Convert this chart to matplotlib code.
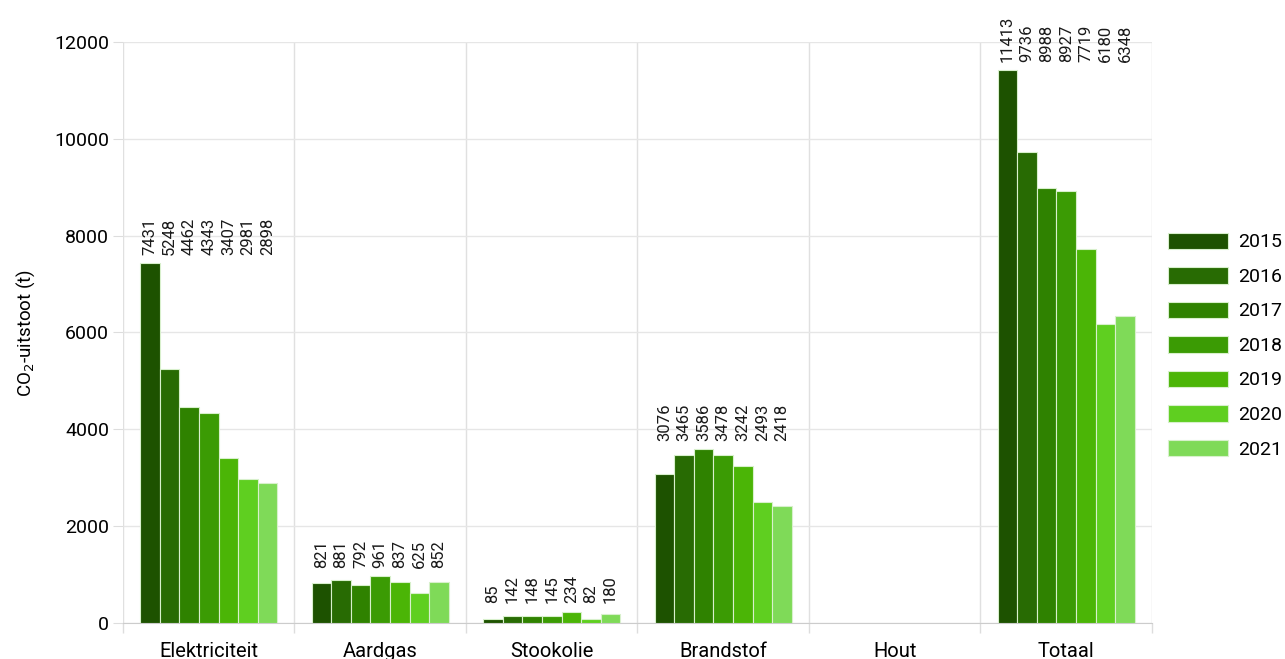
import numpy as np
import matplotlib
matplotlib.use("Agg")
import matplotlib.pyplot as plt

plt.rcParams['font.family'] = ['Roboto', 'DejaVu Sans']

# data
categories = ["Elektriciteit", "Aardgas", "Stookolie", "Brandstof", "Hout", "Totaal"]
years = ["2015", "2016", "2017", "2018", "2019", "2020", "2021"]
elektriciteit = [7431, 5248, 4462, 4343, 3407, 2981, 2898]
aardgas = [821, 881, 792, 961, 837, 625, 852]
stookolie = [85, 142, 148, 145, 234, 82, 180]
brandstof = [3076, 3465, 3586, 3478, 3242, 2493, 2418]
hout = [None] * 7
totaal = [11413, 9736, 8988, 8927, 7719, 6180, 6348]
colors = ["#1d5200", "#286b03", "#2f8200", "#3b9b04", "#4bb506", "#5fcf20", "#7fda58"]

series = [elektriciteit, aardgas, stookolie, brandstof, hout, totaal]

fig = plt.figure(figsize=(12.85, 6.59), dpi=100)
ax = fig.add_axes([0.0957, 0.0546, 0.8008, 0.8817])

n = len(years)
group_w = 0.8
bw = group_w / n
x = np.arange(len(categories))
for j, yr in enumerate(years):
    xs = x - group_w / 2 + bw * (j + 0.5)
    ax.bar(xs[0], 0, width=bw, color=colors[j], edgecolor="#d8f0cc", linewidth=0.8, label=yr)
    for xi, s in zip(xs, series):
        v = s[j]
        if v is None:
            continue
        ax.bar(xi, v, width=bw, color=colors[j], edgecolor="#d8f0cc", linewidth=0.8, zorder=3)
        # labels sit on a common baseline above the group's tallest bar
        top = max(val for val in s if val is not None)
        ax.annotate(str(v), (xi, top), xytext=(0, 6), textcoords="offset points",
                    rotation=90, ha="center", va="bottom", fontsize=12,
                    color="#1a1a1a", annotation_clip=False)

ax.set_xlim(-0.5, len(categories) - 0.5)
ax.set_ylim(0, 12000)
ax.set_yticks(range(0, 12001, 2000))
ax.set_xticks(x)
ax.set_xticklabels(categories, fontsize=14.5)
ax.set_xticks(np.arange(-0.5, len(categories)), minor=True)
ax.tick_params(axis="x", which="major", length=0, pad=13.5)
ax.tick_params(axis="x", which="minor", length=7, color="#dddddd", width=1)
ax.tick_params(axis="y", length=7, color="#dddddd", labelsize=14, pad=3)
ax.grid(axis="y", color="#e6e6e6", linewidth=1, zorder=0)
ax.grid(axis="x", which="minor", color="#e0e0e0", linewidth=1, zorder=0)
for s in ["top", "right", "left"]:
    ax.spines[s].set_visible(False)
ax.spines["bottom"].set_color("#cccccc")

ax.set_ylabel(r"CO$_2$-uitstoot (t)", fontsize=13.5, labelpad=12)

leg = ax.legend(loc="center left", bbox_to_anchor=(1.0078, 0.4776), frameon=False,
                fontsize=14, handlelength=3.1, handleheight=0.93, labelspacing=0.8,
                handletextpad=0.5, borderaxespad=0)

fig.savefig("out.png", dpi=100)
